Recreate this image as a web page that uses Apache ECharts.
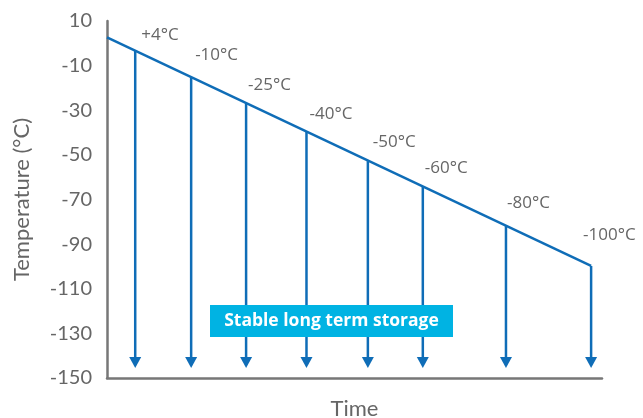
<!DOCTYPE html>
<html><head><meta charset="utf-8">
<script src="https://cdn.jsdelivr.net/npm/echarts@6/dist/echarts.min.js"></script>
<style>html,body{margin:0;padding:0;background:#fff}#c{width:643px;height:418px}</style>
</head><body><div id="c"></div>
<script>
// Data
const timePoints = [5.7, 17.0, 28.1, 40.3, 52.7, 63.8, 80.6, 97.8];
const tempValues = [-3.3, -15.2, -26.9, -39.6, -52.8, -64.3, -81.9, -99.8];
const tempLabels = ['+4°C', '-10°C', '-25°C', '-40°C', '-50°C', '-60°C', '-80°C', '-100°C'];
const lineStart = [0, 2.7];
const lineEnd = [97.8, -99.8];
const arrowTip = -145.5;
const yTicks = [10, -10, -30, -50, -70, -90, -110, -130, -150];

const labelOffsets = [[6,-16],[4,-22],[2,-18],[3,-18],[5,-19],[2,-19],[1,-23],[-8,-31]];
const blue = '#0f6db7';

const chart = echarts.init(document.getElementById('c'), null, {renderer:'canvas'});
const arrowData = timePoints.map((t, i) => [t, tempValues[i], i]);

chart.setOption({
  animation: false,
  grid: {left: 107, right: 41, top: 21, bottom: 40, containLabel: false, outerBoundsMode: 'none'},
  xAxis: {
    type: 'value', min: 0, max: 100,
    name: 'Time', nameLocation: 'middle', nameGap: 20,
    nameTextStyle: {fontFamily: 'Lato', fontSize: 22, color: '#666'},
    axisLine: {show: true, onZero: false, lineStyle: {color: '#777', width: 2.5}},
    axisTick: {show: false}, axisLabel: {show: false}, splitLine: {show: false}
  },
  yAxis: {
    type: 'value', min: -150, max: 10, interval: 20,
    name: 'Temperature (°C)', nameLocation: 'middle', nameGap: 74,
    nameTextStyle: {fontFamily: 'Lato', fontSize: 22, color: '#666'},
    axisLine: {show: true, onZero: false, lineStyle: {color: '#777', width: 2.5}},
    axisTick: {show: false}, splitLine: {show: false},
    axisLabel: {fontFamily: 'Lato', fontSize: 20, color: '#666', margin: 15,
      formatter: v => yTicks.includes(v) ? String(v) : ''}
  },
  series: [
    {
      type: 'line', data: [lineStart, lineEnd], symbol: 'none',
      lineStyle: {color: blue, width: 2.5}, z: 3
    },
    {
      type: 'custom', data: arrowData, z: 2,
      renderItem: function (params, api) {
        const x = api.value(0), y = api.value(1), idx = api.value(2);
        const top = api.coord([x, y]);
        const tip = api.coord([x, arrowTip]);
        const headH = 11, headW = 6;
        const off = labelOffsets[idx];
        return {
          type: 'group',
          children: [
            {type: 'line', shape: {x1: top[0], y1: top[1], x2: tip[0], y2: tip[1] - headH + 1},
             style: {stroke: blue, lineWidth: 2.5}},
            {type: 'polygon', shape: {points: [[tip[0]-headW, tip[1]-headH],[tip[0]+headW, tip[1]-headH],[tip[0], tip[1]]]},
             style: {fill: blue}},
            {type: 'text', x: top[0] + off[0], y: top[1] + off[1],
             style: {text: tempLabels[idx], fill: '#666', font: '17px "Open Sans"', align: 'left', verticalAlign: 'middle'}}
          ]
        };
      }
    }
  ],
  graphic: [
    {type: 'rect', x: 210, y: 305, z: 100,
     shape: {x: 0, y: 0, width: 243, height: 32}, style: {fill: '#00b3e3'}},
    {type: 'text', x: 331.5, y: 321, z: 101,
     style: {text: 'Stable long term storage', fill: '#fff',
       fontFamily: 'Open Sans', fontWeight: 'bold', fontSize: 17.5,
       font: 'bold 17.5px "Open Sans"', align: 'center', verticalAlign: 'middle'}}
  ]
});
</script></body></html>
